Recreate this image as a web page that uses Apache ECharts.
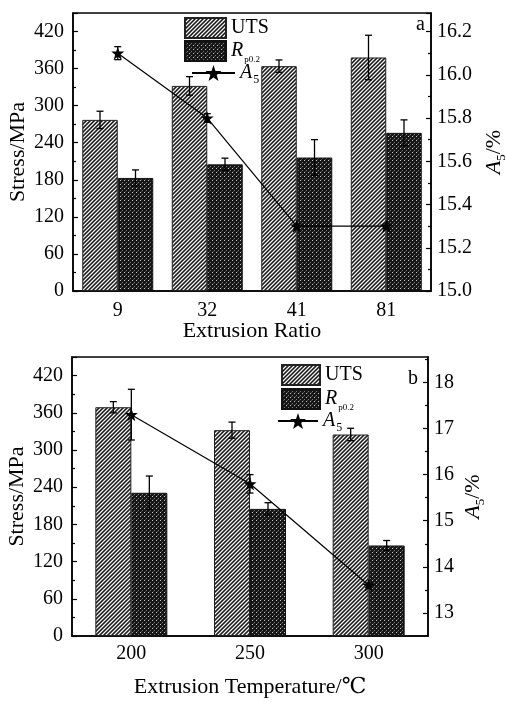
<!DOCTYPE html>
<html>
<head>
<meta charset="utf-8">
<script src="https://cdn.jsdelivr.net/npm/echarts@6/dist/echarts.min.js"></script>
<style>
html,body{margin:0;padding:0;background:#fff;}
#chart{width:507px;height:702px;}
</style>
</head>
<body>
<div id="chart"></div>
<script>
// ---- data ----
const ratioCats = ['9', '32', '41', '81'];
const utsRatio = [277, 332, 364, 378];
const utsRatioErr = [14, 15, 10, 36];
const rpRatio = [183, 205, 216, 256];
const rpRatioErr = [13, 10, 29, 21];
const a5Ratio = [16.1, 15.8, 15.3, 15.3];
const a5RatioErr = [0.03, 0.02, 0.01, 0.01];

const tempCats = ['200', '250', '300'];
const utsTemp = [369, 332, 325];
const utsTempErr = [9, 13, 10];
const rpTemp = [231, 205, 146];
const rpTempErr = [27, 10, 8];
const a5Temp = [17.3, 15.8, 13.6];
const a5TempErr = [0.55, 0.2, 0.05];

const rightTicksTemp = [13, 14, 15, 16, 17, 18];
const rightMinorTemp = [13.5, 14.5, 15.5, 16.5, 17.5, 18.5];

// ---- styles ----
const FONT = 'Liberation Serif, DejaVu Serif, serif';

function stripePattern() {
  const n = 8, c = document.createElement('canvas');
  c.width = n; c.height = n;
  const ctx = c.getContext('2d');
  const img = ctx.createImageData(n, n);
  for (let y = 0; y < n; y++) for (let x = 0; x < n; x++) {
    const k = (x + y) % 4;
    const v = k === 0 ? 245 : (k === 2 ? 25 : 115);
    const p = (y * n + x) * 4;
    img.data[p] = img.data[p + 1] = img.data[p + 2] = v; img.data[p + 3] = 255;
  }
  ctx.putImageData(img, 0, 0);
  return c;
}
function dotPattern() {
  const n = 4, c = document.createElement('canvas');
  c.width = n; c.height = n;
  const ctx = c.getContext('2d');
  const img = ctx.createImageData(n, n);
  for (let y = 0; y < n; y++) for (let x = 0; x < n; x++) {
    let v = 22;
    if (x === 0 && y === 0) v = 200;
    else if (x === 2 && y === 2) v = 120;
    else if (x === 1 && y === 3) v = 70;
    const p = (y * n + x) * 4;
    img.data[p] = img.data[p + 1] = img.data[p + 2] = v; img.data[p + 3] = 255;
  }
  ctx.putImageData(img, 0, 0);
  return c;
}
const utsStyle = { color: { image: stripePattern(), repeat: 'repeat' }, borderColor: '#222', borderWidth: 1 };
const rpStyle = { color: { image: dotPattern(), repeat: 'repeat' }, borderColor: '#111', borderWidth: 1 };
const STAR = 'path://M0,-10L2.35,-3.24L9.51,-3.09L3.8,1.24L5.88,8.09L0,4L-5.88,8.09L-3.8,1.24L-9.51,-3.09L-2.35,-3.24Z';

const rich = {
  i: { fontFamily: FONT, fontStyle: 'italic', fontSize: 20, color: '#000' },
  s: { fontFamily: FONT, fontSize: 9, color: '#000', padding: [18, 0, 0, 1] },
  s5: { fontFamily: FONT, fontSize: 12, color: '#000', padding: [14, 0, 0, 1] }
};
const nameRich = {
  i: { fontFamily: FONT, fontStyle: 'italic', fontSize: 22, color: '#000' },
  s: { fontFamily: FONT, fontSize: 13, color: '#000', padding: [14, 0, 0, 0] },
  n: { fontFamily: FONT, fontSize: 22, color: '#000' }
};
function legendFmt(name) {
  if (name === 'Rp') return '{i|R}{s|p0.2}';
  if (name === 'A5') return '{i|A}{s5|5}';
  return name;
}

function errSeries(xi, yi, vals, errs, shift) {
  return {
    type: 'custom', xAxisIndex: xi, yAxisIndex: yi, z: 5, silent: true,
    data: vals.map((v, i) => [i, v, errs[i]]),
    renderItem(params, api) {
      const i = api.value(0), v = api.value(1), e = api.value(2);
      const top = api.coord([i, v + e]);
      const bot = api.coord([i, v - e]);
      const x = top[0] + shift, cw = 3.5;
      const st = { stroke: '#000', lineWidth: 1.3, fill: null };
      return {
        type: 'group', children: [
          { type: 'line', shape: { x1: x, y1: top[1], x2: x, y2: bot[1] }, style: st },
          { type: 'line', shape: { x1: x - cw, y1: top[1], x2: x + cw, y2: top[1] }, style: st },
          { type: 'line', shape: { x1: x - cw, y1: bot[1], x2: x + cw, y2: bot[1] }, style: st }
        ]
      };
    }
  };
}

const axisLine = { show: true, lineStyle: { color: '#000', width: 1.5 } };
const labelStyle = { fontFamily: FONT, fontSize: 20, color: '#000' };

function leftAxis(gi) {
  return {
    type: 'value', gridIndex: gi, position: 'left', min: 0, max: 450, interval: 60,
    axisLine: axisLine,
    axisTick: { show: true, inside: true, length: 5, lineStyle: { color: '#000', width: 1.2 } },
    minorTick: { show: true, splitNumber: 2, length: 3, lineStyle: { color: '#000', width: 1.2 } },
    axisLabel: Object.assign({ showMaxLabel: false, margin: 9 }, labelStyle),
    splitLine: { show: false },
    name: 'Stress/MPa', nameLocation: 'middle', nameGap: 44, nameRotate: 90, nameMoveOverlap: false,
    nameTextStyle: { fontFamily: FONT, fontSize: 22, color: '#000' }
  };
}

const BW_A = 35.5, BW_B = 36;
const legendText = { fontFamily: FONT, fontSize: 20, color: '#000', rich: rich };

const option = {
  animation: false,
  backgroundColor: '#fff',
  title: [
    { text: 'a', left: 416, top: 15, padding: 0, textStyle: { fontFamily: FONT, fontSize: 20, fontWeight: 'normal', color: '#000' } },
    { text: 'b', left: 408, top: 369, padding: 0, textStyle: { fontFamily: FONT, fontSize: 20, fontWeight: 'normal', color: '#000' } }
  ],
  legend: [
    { data: [{ name: 'UTS', icon: 'rect' }, { name: 'Rp', icon: 'rect' }], orient: 'vertical', left: 184, top: 17,
      itemWidth: 41, itemHeight: 20, itemGap: 1, padding: 0,
      selectedMode: false, formatter: legendFmt, textStyle: legendText },
    { data: ['A5'], orient: 'vertical', left: 191, top: 63, itemWidth: 43, itemHeight: 20, padding: 0,
      selectedMode: false, formatter: legendFmt, textStyle: legendText },
    { data: [{ name: 'UTS', icon: 'rect' }, { name: 'Rp', icon: 'rect' }], orient: 'vertical', left: 281, top: 364,
      itemWidth: 38, itemHeight: 20, itemGap: 2, padding: 0,
      selectedMode: false, formatter: legendFmt, textStyle: legendText },
    { data: ['A5'], orient: 'vertical', left: 277, top: 411, itemWidth: 40, itemHeight: 20, padding: 0,
      selectedMode: false, formatter: legendFmt, textStyle: legendText }
  ],
  grid: [
    { left: 73, right: 76, top: 13, height: 278, outerBoundsMode: 'none', containLabel: false,
      show: true, borderColor: '#000', borderWidth: 1.5, backgroundColor: 'transparent' },
    { left: 72, right: 79, top: 357, height: 279, outerBoundsMode: 'none', containLabel: false,
      show: true, borderColor: '#000', borderWidth: 1.5, backgroundColor: 'transparent' }
  ],
  xAxis: [
    { type: 'category', gridIndex: 0, data: ratioCats, axisLine: axisLine, axisTick: { show: false },
      axisLabel: Object.assign({ margin: 10 }, labelStyle),
      name: 'Extrusion Ratio', nameLocation: 'middle', nameGap: 29, nameMoveOverlap: false,
      nameTextStyle: { fontFamily: FONT, fontSize: 22, color: '#000', verticalAlign: 'top' } },
    { type: 'category', gridIndex: 1, data: tempCats, axisLine: axisLine, axisTick: { show: false },
      axisLabel: Object.assign({ margin: 8 }, labelStyle),
      name: 'Extrusion Temperature/℃', nameLocation: 'middle', nameGap: 40, nameMoveOverlap: false,
      nameTextStyle: { fontFamily: FONT, fontSize: 22, color: '#000', verticalAlign: 'top' } }
  ],
  yAxis: [
    leftAxis(0),
    { type: 'value', gridIndex: 0, position: 'right', min: 15, max: 15 + 1.2 * 450 / 420, interval: 0.2,
      axisLine: axisLine,
      axisTick: { show: true, inside: true, length: 5, lineStyle: { color: '#000', width: 1.2 } },
      minorTick: { show: true, splitNumber: 2, length: 3, lineStyle: { color: '#000', width: 1.2 } },
      axisLabel: Object.assign({ showMaxLabel: false, margin: 6, formatter: v => v.toFixed(1) }, labelStyle),
      splitLine: { show: false },
      name: '{i|A}{s|5}{n|/%}', nameLocation: 'middle', nameGap: 50, nameRotate: 90, nameMoveOverlap: false,
      nameTextStyle: { rich: nameRich } },
    leftAxis(1),
    { type: 'value', gridIndex: 1, position: 'right', min: 12.5, max: 18.55,
      axisLine: axisLine,
      axisTick: { show: true, inside: true, length: 5, customValues: rightTicksTemp, lineStyle: { color: '#000', width: 1.2 } },
      axisLabel: Object.assign({ margin: 6, customValues: rightTicksTemp }, labelStyle),
      splitLine: { show: false },
      name: '{i|A}{s|5}{n|/%}', nameLocation: 'middle', nameGap: 32, nameRotate: 90, nameMoveOverlap: false,
      nameTextStyle: { rich: nameRich } },
    { type: 'value', gridIndex: 1, position: 'right', min: 12.5, max: 18.55,
      axisLine: { show: false },
      axisTick: { show: true, inside: true, length: 3, customValues: rightMinorTemp, lineStyle: { color: '#000', width: 1.2 } },
      axisLabel: { show: false }, splitLine: { show: false } }
  ],
  series: [
    { name: 'UTS', type: 'bar', xAxisIndex: 0, yAxisIndex: 0, data: utsRatio, barWidth: BW_A, barGap: '0%', itemStyle: utsStyle },
    { name: 'Rp', type: 'bar', xAxisIndex: 0, yAxisIndex: 0, data: rpRatio, barWidth: BW_A, barGap: '0%', itemStyle: rpStyle },
    errSeries(0, 0, utsRatio, utsRatioErr, -BW_A / 2),
    errSeries(0, 0, rpRatio, rpRatioErr, BW_A / 2),
    { name: 'A5', type: 'line', xAxisIndex: 0, yAxisIndex: 1, data: a5Ratio, z: 6,
      symbol: STAR, symbolSize: 13, lineStyle: { color: '#000', width: 1.2 }, itemStyle: { color: '#000' } },
    errSeries(0, 1, a5Ratio, a5RatioErr, 0),

    { name: 'UTS', type: 'bar', xAxisIndex: 1, yAxisIndex: 2, data: utsTemp, barWidth: BW_B, barGap: '0%', itemStyle: utsStyle },
    { name: 'Rp', type: 'bar', xAxisIndex: 1, yAxisIndex: 2, data: rpTemp, barWidth: BW_B, barGap: '0%', itemStyle: rpStyle },
    errSeries(1, 2, utsTemp, utsTempErr, -BW_B / 2),
    errSeries(1, 2, rpTemp, rpTempErr, BW_B / 2),
    { name: 'A5', type: 'line', xAxisIndex: 1, yAxisIndex: 3, data: a5Temp, z: 6,
      symbol: STAR, symbolSize: 13, lineStyle: { color: '#000', width: 1.2 }, itemStyle: { color: '#000' } },
    errSeries(1, 3, a5Temp, a5TempErr, 0)
  ]
};

const chart = echarts.init(document.getElementById('chart'), null, { renderer: 'canvas' });
chart.setOption(option);
</script>
</body>
</html>
